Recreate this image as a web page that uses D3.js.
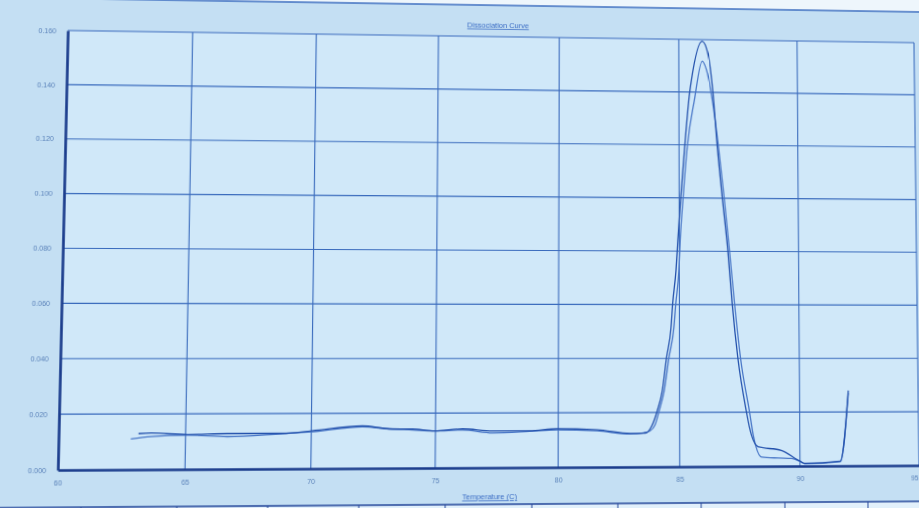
<!DOCTYPE html>
<html>
<head>
<meta charset="utf-8">
<script src="https://cdn.jsdelivr.net/npm/d3@7"></script>
<style>
  html, body { margin: 0; padding: 0; background: #c4dff3; overflow: hidden; }
  #chart { position: absolute; left: 0; top: 0; width: 919px; height: 508px; }
  #chart svg { position: absolute; left: 0; top: 0; overflow: visible; transform-origin: 0 0; }
</style>
</head>
<body>
<div id="chart"></div>
<script>
// ── Data ───────────────────────────────────────────────────────────────────
const xTicks = [60, 65, 70, 75, 80, 85, 90, 95];
const yTicks = [0, 0.02, 0.04, 0.06, 0.08, 0.10, 0.12, 0.14, 0.16];

// Well 1 (taller peak)
const tempA = [63.14, 63.64, 65.08, 66.65, 68.85, 70.03, 72.05, 73.14, 74.07, 74.96, 76.10, 77.32,
  78.83, 79.93, 81.59, 82.96, 83.50, 83.64, 83.85, 84.07, 84.28, 84.46, 84.65, 84.72, 84.86, 84.94,
  85.07, 85.24, 85.45, 85.52, 85.98, 86.23, 86.43, 86.60, 86.80, 87.03, 87.20, 87.43, 87.77, 87.90,
  88.26, 89.22, 90.00, 90.20, 91.69, 92.05];
const valA = [0.0129, 0.0131, 0.0125, 0.0128, 0.0128, 0.0137, 0.0154, 0.0143, 0.0142, 0.0135, 0.0142, 0.0134,
  0.0134, 0.0141, 0.0137, 0.0123, 0.0124, 0.0126, 0.0151, 0.0205, 0.0279, 0.0402, 0.0515, 0.0603, 0.0728, 0.0841,
  0.1006, 0.1197, 0.1398, 0.1442, 0.1594, 0.1543, 0.1399, 0.1197, 0.1006, 0.0801, 0.0604, 0.0401, 0.0205, 0.0144,
  0.0072, 0.0058, 0.0018, 0.0010, 0.0017, 0.0280];

// Well 2 (lower peak)
const tempB = [62.84, 63.64, 65.08, 66.65, 68.85, 70.03, 72.05, 73.14, 74.07, 74.96, 76.10, 77.32,
  78.83, 79.93, 81.59, 82.96, 83.50, 83.77, 83.98, 84.15, 84.36, 84.56, 84.77, 84.85, 84.98, 85.04,
  85.17, 85.35, 85.65, 85.98, 86.15, 86.40, 86.65, 86.88, 87.10, 87.30, 87.54, 87.90, 88.06,
  88.40, 89.09, 89.65, 90.00, 90.20, 91.69, 92.05];
const valB = [0.0110, 0.0118, 0.0123, 0.0117, 0.0127, 0.0133, 0.0151, 0.0143, 0.0139, 0.0135, 0.0138, 0.0127,
  0.0132, 0.0137, 0.0133, 0.0121, 0.0125, 0.0132, 0.0154, 0.0205, 0.0279, 0.0402, 0.0515, 0.0603, 0.0728, 0.0841,
  0.1006, 0.1197, 0.1370, 0.1518, 0.1488, 0.1370, 0.1197, 0.1006, 0.0801, 0.0604, 0.0401, 0.0205, 0.0114,
  0.0034, 0.0030, 0.0028, 0.0017, 0.0008, 0.0015, 0.0270];

// Table column dividers peeking in under the chart (x in px of the flat layout)
const tableCols = [83, 175, 263, 352, 437, 523, 609, 693, 778, 863];

// ── Layout ─────────────────────────────────────────────────────────────────
const W = 919, H = 508;
const plotL = 60, plotR = 916, plotT = 36, plotB = 467;

const svg = d3.select('#chart').append('svg').attr('width', W).attr('height', H);

const x = d3.scaleLinear().domain([60, 95]).range([plotL, plotR]);
const y = d3.scaleLinear().domain([0, 0.16]).range([plotB, plotT]);

// Backdrop (oversized so the perspective warp leaves no gaps)
svg.append('rect').attr('x', -60).attr('y', -60).attr('width', W + 120).attr('height', H + 120).attr('fill', '#c4dff3');
svg.append('rect').attr('x', -60).attr('y', -60).attr('width', W + 120).attr('height', 64).attr('fill', '#eef6fc');
svg.append('line').attr('x1', -60).attr('x2', W + 60).attr('y1', 4).attr('y2', 4)
  .attr('stroke', '#3f6fc0').attr('stroke-width', 1.5);
svg.append('rect').attr('x', plotL).attr('y', plotT).attr('width', plotR - plotL).attr('height', plotB - plotT)
  .attr('fill', '#d0e8f9');

// Table strip at the bottom
svg.append('rect').attr('x', -60).attr('y', 503).attr('width', W + 120).attr('height', 80).attr('fill', '#e2f0fb');
svg.append('line').attr('x1', -60).attr('x2', W + 60).attr('y1', 503).attr('y2', 503)
  .attr('stroke', '#24479a').attr('stroke-width', 1.5);
svg.selectAll('.tcol').data(tableCols).enter().append('line').attr('class', 'tcol')
  .attr('x1', d => d).attr('x2', d => d).attr('y1', 503).attr('y2', 530)
  .attr('stroke', '#24479a').attr('stroke-width', 1);

// Grid
const g = svg.append('g');
g.selectAll('.vgrid').data(xTicks.slice(1)).enter().append('line').attr('class', 'vgrid')
  .attr('x1', d => x(d)).attr('x2', d => x(d)).attr('y1', plotT).attr('y2', plotB)
  .attr('stroke', '#3a6bbd').attr('stroke-width', 1.1);
g.selectAll('.hgrid').data(yTicks.slice(1)).enter().append('line').attr('class', 'hgrid')
  .attr('x1', plotL).attr('x2', plotR).attr('y1', d => y(d)).attr('y2', d => y(d))
  .attr('stroke', '#3a6bbd').attr('stroke-width', 1.1);

// Axes
const fmtY = d3.format('.3f');
const yAxisG = g.append('g').attr('transform', `translate(${plotL},0)`)
  .call(d3.axisLeft(y).tickValues(yTicks).tickSize(0).tickPadding(11).tickFormat(fmtY));
const xAxisG = g.append('g').attr('transform', `translate(0,${plotB})`)
  .call(d3.axisBottom(x).tickValues(xTicks).tickSize(0).tickPadding(10).tickFormat(d3.format('d')));
[yAxisG, xAxisG].forEach(a => {
  a.select('.domain').attr('stroke', '#1b3c8c').attr('stroke-width', 2.6);
  a.selectAll('text').attr('fill', '#5b83ba').attr('font-size', 7)
    .attr('font-family', 'Liberation Sans, Arial, sans-serif');
});
// The 95 label sits right on the photo's edge; nudge it in so it stays whole.
xAxisG.selectAll('.tick').filter(d => d === 95).select('text').attr('text-anchor', 'end').attr('dx', -1);

// Titles
g.append('text').attr('x', 487).attr('y', 27).attr('text-anchor', 'middle')
  .attr('fill', '#3a6cc4').attr('font-size', 7.5).attr('font-family', 'Liberation Sans, Arial, sans-serif')
  .attr('text-decoration', 'underline').text('Dissociation Curve');
g.append('text').attr('x', 481).attr('y', 498).attr('text-anchor', 'middle')
  .attr('fill', '#3a6cc4').attr('font-size', 7.5).attr('font-family', 'Liberation Sans, Arial, sans-serif')
  .attr('text-decoration', 'underline').text('Temperature (C)');

// Curves
const line = d3.line().x(d => x(d[0])).y(d => y(d[1])).curve(d3.curveMonotoneX);
const series = [d3.zip(tempB, valB), d3.zip(tempA, valA)];
g.selectAll('.curve').data(series).enter().append('path').attr('class', 'curve')
  .attr('d', line)
  .attr('fill', 'none')
  .attr('stroke', (d, i) => i ? '#2452ad' : '#4a78c8')
  .attr('stroke-width', 1.3);

// ── Perspective warp to match the photographed screen ───────────────────────
// Map the 65/90 gridline ends of the flat layout onto where they sit in the photo.
function homography(src, dst) {
  const A = [], b = [];
  for (let i = 0; i < 4; i++) {
    const [sx, sy] = src[i], [u, v] = dst[i];
    A.push([sx, sy, 1, 0, 0, 0, -u * sx, -u * sy]); b.push(u);
    A.push([0, 0, 0, sx, sy, 1, -v * sx, -v * sy]); b.push(v);
  }
  const n = 8;
  for (let c = 0; c < n; c++) {
    let p = c;
    for (let r = c + 1; r < n; r++) if (Math.abs(A[r][c]) > Math.abs(A[p][c])) p = r;
    [A[c], A[p]] = [A[p], A[c]]; [b[c], b[p]] = [b[p], b[c]];
    for (let r = 0; r < n; r++) {
      if (r === c) continue;
      const f = A[r][c] / A[c][c];
      for (let k = c; k < n; k++) A[r][k] -= f * A[c][k];
      b[r] -= f * b[c];
    }
  }
  return b.map((v, i) => v / A[i][i]);
}

const src = [[x(65), y(0.16)], [x(65), y(0)], [x(90), y(0.16)], [x(90), y(0)]];
const dst = [[192.7, 32.3], [185, 469.3], [797, 41], [800, 466]];
const h = homography(src, dst);
svg.style('transform', `matrix3d(${h[0]},${h[3]},0,${h[6]},${h[1]},${h[4]},0,${h[7]},0,0,1,0,${h[2]},${h[5]},0,1)`);
</script>
</body>
</html>
